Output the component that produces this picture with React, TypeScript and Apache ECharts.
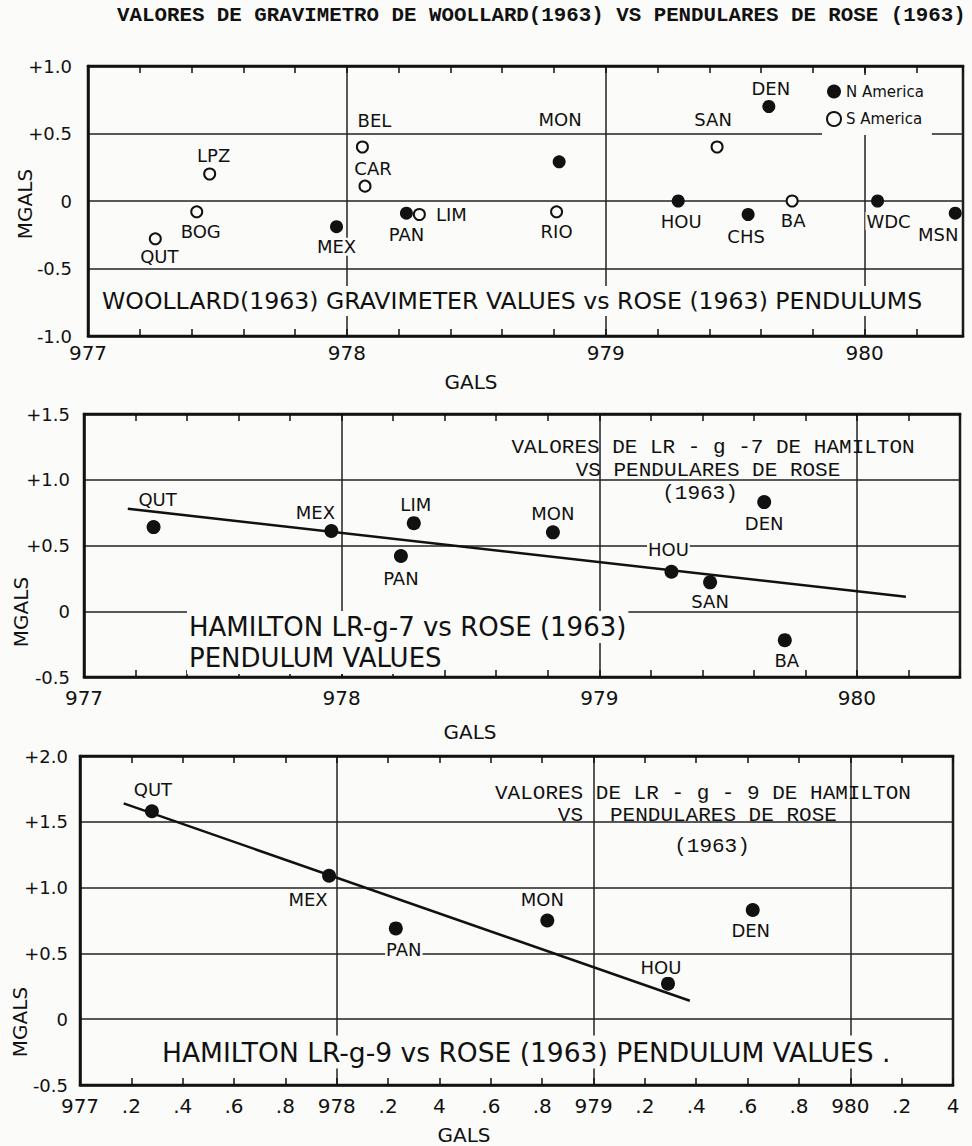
import React, { useEffect, useRef } from 'react';
import * as echarts from 'echarts';

const FONT = '"DejaVu Sans", "Noto Sans", sans-serif';
const MONO = '"Liberation Mono", "DejaVu Sans Mono", monospace';
const INK = '#111111';
const PAPER = '#fbfbf9';

// ---------- Panel 1: Woollard (1963) gravimeter vs Rose (1963) pendulums ----------
const stations1 = ['QUT', 'BOG', 'LPZ', 'BEL', 'CAR', 'MEX', 'PAN', 'LIM', 'MON', 'RIO', 'HOU', 'SAN', 'DEN', 'CHS', 'BA', 'WDC', 'MSN'];
const gals1 = [977.26, 977.42, 977.47, 978.06, 978.07, 977.96, 978.23, 978.28, 978.82, 978.81, 979.28, 979.43, 979.63, 979.55, 979.72, 980.05, 980.35];
const mgals1 = [-0.28, -0.08, 0.2, 0.4, 0.11, -0.19, -0.09, -0.1, 0.29, -0.08, 0.0, 0.4, 0.7, -0.1, 0.0, 0.0, -0.09];
const region1 = ['S', 'S', 'S', 'S', 'S', 'N', 'N', 'S', 'N', 'S', 'N', 'S', 'N', 'N', 'S', 'N', 'N'];
const labelOffset1 = [[4, 18], [4, 20], [4, -19], [12, -27], [8, -18], [0, 20], [0, 21], [32, 0], [1, -42], [0, 20], [3, 20], [-4, -28], [2, -18], [-2, 22], [1, 19], [11, 20], [-17, 21]];

// ---------- Panel 2: Hamilton LR-g-7 vs Rose (1963) ----------
const stations2 = ['QUT', 'MEX', 'LIM', 'PAN', 'MON', 'HOU', 'SAN', 'DEN', 'BA'];
const gals2 = [977.27, 977.96, 978.28, 978.23, 978.82, 979.28, 979.43, 979.64, 979.72];
const mgals2 = [0.64, 0.61, 0.67, 0.42, 0.6, 0.3, 0.22, 0.83, -0.22];
const fitGals2 = [977.17, 980.19];
const fitMgals2 = [0.78, 0.11];
const labelOffset2 = [[4, -28], [-16, -19], [2, -19], [0, 22], [0, -19], [-3, -22], [0, 19], [0, 21], [2, 20]];

// ---------- Panel 3: Hamilton LR-g-9 vs Rose (1963) ----------
const stations3 = ['QUT', 'MEX', 'PAN', 'MON', 'DEN', 'HOU'];
const gals3 = [977.28, 977.97, 978.23, 978.82, 979.62, 979.29];
const mgals3 = [1.58, 1.09, 0.69, 0.75, 0.83, 0.27];
const fitGals3 = [977.17, 979.375];
const fitMgals3 = [1.64, 0.14];
const labelOffset3 = [[1, -22], [-21, 24], [8, 21], [-5, -21], [-2, 21], [-7, -16]];
const xTickLabels3 = ['977', '.2', '.4', '.6', '.8', '978', '.2', '4', '.6', '.8', '979', '.2', '.4', '.6', '.8', '980', '.2', '4'];

const titleMain = 'VALORES DE GRAVIMETRO DE WOOLLARD(1963) VS PENDULARES DE ROSE (1963)';
const title1 = 'WOOLLARD(1963) GRAVIMETER VALUES vs ROSE (1963) PENDULUMS';
const title2a = 'HAMILTON LR-g-7 vs ROSE (1963)';
const title2b = 'PENDULUM VALUES';
const title3 = 'HAMILTON LR-g-9 vs ROSE (1963) PENDULUM VALUES .';
const spanish2 = ['VALORES DE LR - g -7 DE HAMILTON', 'VS PENDULARES DE ROSE', '(1963)'];
const spanish3 = ['VALORES DE LR - g - 9 DE HAMILTON', 'VS', 'PENDULARES DE ROSE', '(1963)'];

const grids = [
  { left: 88, top: 66, width: 875, height: 270 },
  { left: 84, top: 414, width: 876, height: 263 },
  { left: 80, top: 756, width: 873, height: 329 },
];
const xMax = [980.38, 980.4, 980.4];
const yMin = [-1, -0.5, -0.5];
const yMax = [1, 1.5, 2];
const xLabelMargin = [7, 11, 11];
const yLabelMargin = [16, 14, 12];

function intLabel(v: number) {
  return Math.abs(v - Math.round(v)) < 1e-6 ? String(Math.round(v)) : '';
}
function panel3Label(v: number) {
  const k = Math.round((v - 977) * 5);
  if (Math.abs((v - 977) * 5 - k) > 1e-4) return '';
  return xTickLabels3[k] ?? '';
}
function yLabel(v: number) {
  if (Math.abs(v) < 1e-9) return '0';
  return v > 0 ? '+' + v.toFixed(1) : v.toFixed(1);
}

function points(names: string[], xs: number[], ys: number[], offs: number[][], keep?: (i: number) => boolean) {
  const out: any[] = [];
  names.forEach((n, i) => {
    if (keep && !keep(i)) return;
    out.push({ name: n, value: [xs[i], ys[i]], label: { offset: offs[i] } });
  });
  return out;
}

const pointLabel = {
  show: true,
  position: 'inside',
  formatter: '{b}',
  color: INK,
  opacity: 1,
  fontFamily: FONT,
  fontSize: 18,
  textBorderWidth: 0,
  backgroundColor: PAPER,
  padding: [0, 1],
};

export default function App() {
  const ref = useRef<HTMLDivElement>(null);
  useEffect(() => {
    if (!ref.current) return;
    const chart = echarts.init(ref.current, undefined, { renderer: 'svg' });

    const xAxis: any[] = [];
    const yAxis: any[] = [];
    grids.forEach((g, i) => {
      const base = { gridIndex: i, type: 'value', min: 977, max: xMax[i] };
      xAxis.push({
        ...base,
        position: 'bottom',
        interval: 0.2,
        axisLine: { show: true, onZero: false, lineStyle: { color: INK, width: 2.5 } },
        axisTick: { show: true, inside: true, length: 7, lineStyle: { color: INK, width: 1.5 } },
        axisLabel: {
          show: true,
          formatter: i === 2 ? panel3Label : intLabel,
          margin: xLabelMargin[i],
          fontSize: 20,
          fontFamily: FONT,
          color: INK,
          showMinLabel: true,
          showMaxLabel: true,
        },
        splitLine: { show: false },
      });
      xAxis.push({
        ...base,
        position: 'top',
        interval: 0.2,
        axisLine: { show: true, onZero: false, lineStyle: { color: INK, width: 2.5 } },
        axisTick: { show: true, inside: true, length: 7, lineStyle: { color: INK, width: 1.5 } },
        axisLabel: { show: false },
        splitLine: { show: false },
      });
      xAxis.push({
        ...base,
        position: 'bottom',
        interval: 1,
        axisLine: { show: false },
        axisTick: { show: false },
        axisLabel: { show: false },
        splitLine: { show: true, lineStyle: { color: '#222', width: 1.5 } },
      });
      yAxis.push({
        gridIndex: i,
        type: 'value',
        min: yMin[i],
        max: yMax[i],
        interval: 0.5,
        axisLine: { show: true, onZero: false, lineStyle: { color: INK, width: 2.5 } },
        axisTick: { show: false },
        axisLabel: {
          formatter: yLabel,
          margin: yLabelMargin[i],
          fontSize: 18,
          fontFamily: FONT,
          color: INK,
        },
        splitLine: { show: true, lineStyle: { color: '#222', width: 1.5 } },
      });
    });

    const filled = { color: INK, opacity: 1 };
    const series: any[] = [
      {
        name: 'N America',
        type: 'scatter',
        xAxisIndex: 0,
        yAxisIndex: 0,
        symbolSize: 13,
        itemStyle: filled,
        label: pointLabel,
        data: points(stations1, gals1, mgals1, labelOffset1, (i) => region1[i] === 'N'),
      },
      {
        name: 'S America',
        type: 'scatter',
        xAxisIndex: 0,
        yAxisIndex: 0,
        symbolSize: 11,
        itemStyle: { color: PAPER, borderColor: INK, borderWidth: 2, opacity: 1 },
        label: pointLabel,
        data: points(stations1, gals1, mgals1, labelOffset1, (i) => region1[i] === 'S'),
      },
      {
        name: 'fit7',
        type: 'line',
        xAxisIndex: 3,
        yAxisIndex: 1,
        symbol: 'none',
        silent: true,
        lineStyle: { color: INK, width: 2.5 },
        data: fitGals2.map((x, i) => [x, fitMgals2[i]]),
      },
      {
        name: 'LR-g-7',
        type: 'scatter',
        xAxisIndex: 3,
        yAxisIndex: 1,
        symbolSize: 14,
        itemStyle: filled,
        label: pointLabel,
        data: points(stations2, gals2, mgals2, labelOffset2),
      },
      {
        name: 'fit9',
        type: 'line',
        xAxisIndex: 6,
        yAxisIndex: 2,
        symbol: 'none',
        silent: true,
        lineStyle: { color: INK, width: 2.5 },
        data: fitGals3.map((x, i) => [x, fitMgals3[i]]),
      },
      {
        name: 'LR-g-9',
        type: 'scatter',
        xAxisIndex: 6,
        yAxisIndex: 2,
        symbolSize: 14,
        itemStyle: filled,
        label: pointLabel,
        data: points(stations3, gals3, mgals3, labelOffset3),
      },
    ];

    const txt = (text: string, x: number, y: number, opts: any = {}) => ({
      type: 'text',
      x,
      y,
      z: 100,
      style: {
        text,
        fill: INK,
        font: opts.font || `25px ${FONT}`,
        textAlign: opts.align || 'left',
        textVerticalAlign: 'middle',
        backgroundColor: opts.bg,
        padding: opts.bg ? [3, 2] : 0,
      },
      rotation: opts.rotation || 0,
    });

    const graphic: any[] = [
      txt(titleMain, 117, 15, { font: `bold 20.8px ${MONO}` }),
      txt(title1, 100, 301, { bg: PAPER, font: `23.6px ${FONT}` }),
      txt(title2a, 187, 627, { bg: PAPER, font: `26px ${FONT}` }),
      txt(title2b, 187, 658, { bg: PAPER, font: `26px ${FONT}` }),
      txt(title3, 160, 1052, { bg: PAPER, font: `26.5px ${FONT}` }),
      txt(spanish2[0], 713, 447, { font: `21px ${MONO}`, align: 'center' }),
      txt(spanish2[1], 708, 470, { font: `21px ${MONO}`, align: 'center' }),
      txt(spanish2[2], 700, 493, { font: `21px ${MONO}`, align: 'center' }),
      txt(spanish3[0], 495, 793, { font: `21px ${MONO}` }),
      txt(spanish3[1], 583, 815, { font: `21px ${MONO}`, align: 'right' }),
      txt(spanish3[2], 610, 815, { font: `21px ${MONO}` }),
      txt(spanish3[3], 712, 846, { font: `21px ${MONO}`, align: 'center' }),
      txt('MGALS', 25, 204, { font: `20px ${FONT}`, align: 'center', rotation: Math.PI / 2 }),
      txt('MGALS', 21, 612, { font: `20px ${FONT}`, align: 'center', rotation: Math.PI / 2 }),
      txt('MGALS', 20, 1022, { font: `20px ${FONT}`, align: 'center', rotation: Math.PI / 2 }),
      txt('GALS', 471, 382, { font: `20px ${FONT}`, align: 'center' }),
      txt('GALS', 470, 732, { font: `20px ${FONT}`, align: 'center' }),
      txt('GALS', 464, 1135, { font: `20px ${FONT}`, align: 'center' }),
    ];

    chart.setOption({
      animation: false,
      backgroundColor: PAPER,
      grid: grids.map((g) => ({ ...g, show: true, borderColor: INK, borderWidth: 2.5, backgroundColor: 'transparent', containLabel: false })),
      xAxis,
      yAxis,
      legend: {
        data: ['N America', 'S America'],
        orient: 'vertical',
        left: 822,
        top: 75,
        padding: [9, 8, 8, 4],
        backgroundColor: PAPER,
        itemWidth: 14,
        itemHeight: 14,
        itemGap: 12,
        icon: 'circle',
        textStyle: { fontSize: 15, fontFamily: FONT, color: INK },
        selectedMode: false,
      },
      series,
      graphic,
    });
    return () => chart.dispose();
  }, []);
  return <div ref={ref} style={{ position: 'absolute', left: 0, top: 0, width: 972, height: 1146 }} />;
}
